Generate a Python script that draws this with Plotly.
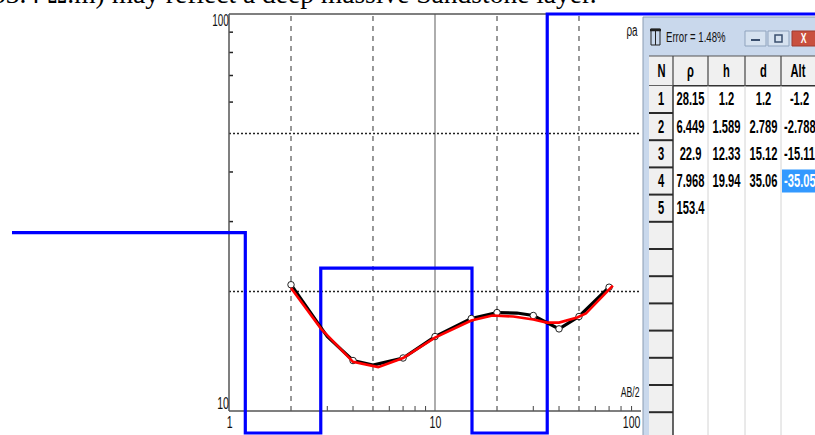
import plotly.graph_objects as go

W, H = 815, 435

# ---------------- data ----------------
# observed sounding (AB/2 in m, apparent resistivity in ohm.m)
AB2_OBS = [2, 3, 4, 5, 7, 10, 15, 20, 25, 30, 40, 50, 70]
RHO_OBS = [20.8, 15.4, 13.4, 13.05, 13.6, 15.4, 17.1, 17.7, 17.65, 17.4, 16.1, 17.3, 20.5]
OBS_CIRCLED = [True, False, True, False, True, True, True, True, False, True, True, True, True]

# calculated (model) curve
AB2_MOD = [2, 2.8, 4, 5.3, 7, 10, 15, 19, 24, 30, 35, 40, 49, 54, 73]
RHO_MOD = [20.4, 16.1, 13.3, 12.9, 13.6, 15.3, 16.9, 17.4, 17.3, 17.0, 16.7, 16.7, 17.2, 17.6, 20.7]

# layer model (table)
LAYER_N = [1, 2, 3, 4, 5]
LAYER_RHO = [28.15, 6.449, 22.9, 7.968, 153.4]
LAYER_H = [1.2, 1.589, 12.33, 19.94]
LAYER_D = [1.2, 2.789, 15.12, 35.06]
LAYER_ALT = ["-1.2", "-2.7887", "-15.117", "-35.056"]
ERROR_TXT = "Error = 1.48%"
DOC_TEXT = "(153.4 Ω.m) may reflect a deep massive Sandstone layer."

X_TICK_LABELS = ["1", "10", "100"]
Y_TICK_LABELS = ["10", "100"]
X_DASH_GRID = [2, 5, 20, 50]
X_SOLID_GRID = [10]
Y_DOT_GRID = [20, 50]
X_MINOR = [3, 4, 6, 7, 8, 9, 30, 40, 60, 70, 80, 90]
Y_MINOR = [30, 40, 60, 70, 80, 90]

# ---------------- geometry of the screenshot ----------------
X_PX_ONE, X_DEC = 229.0, 206.0      # pixel of AB/2 = 1, pixels per decade
Y_PX_TEN, Y_DEC = 411.0, 397.0      # pixel of rho = 10, pixels per decade
X_RANGE = [(0 - X_PX_ONE) / X_DEC, (W - X_PX_ONE) / X_DEC]
Y_RANGE = [1 - (H - Y_PX_TEN) / Y_DEC, 1 + Y_PX_TEN / Y_DEC]
MODEL_X_START = 10 ** ((12 - X_PX_ONE) / X_DEC)
MODEL_X_END = 10 ** X_RANGE[1] * 2
CLIP_HI = 100.0
CLIP_LO = 10 ** (1 - (433 - Y_PX_TEN) / Y_DEC)

SANS = "Liberation Sans, Arial, sans-serif"
SERIF = "Liberation Serif, Times New Roman, serif"


def px(xp):
    return xp / W


def py(yp):
    return 1 - yp / H


fig = go.Figure()


def seg_trace(xs, ys, color, width, dash="solid"):
    fig.add_trace(go.Scatter(x=xs, y=ys, mode="lines", hoverinfo="skip",
                             line=dict(color=color, width=width, dash=dash),
                             showlegend=False))


# grid
gx, gy = [], []
for v in X_DASH_GRID:
    gx += [v, v, None]
    gy += [10, 100, None]
seg_trace(gx, gy, "#333333", 1, "5px,5px")
gx, gy = [], []
for v in X_SOLID_GRID:
    gx += [v, v, None]
    gy += [10, 100, None]
seg_trace(gx, gy, "#777777", 1.2)
gx, gy = [], []
for v in Y_DOT_GRID:
    gx += [1, 100, None]
    gy += [v, v, None]
seg_trace(gx, gy, "#222222", 1.5, "2px,2px")

# minor ticks
tx, ty = [], []
tick_up = 10 ** (1 + 5 / Y_DEC)
for v in X_MINOR:
    tx += [v, v, None]
    ty += [10, tick_up, None]
seg_trace(tx, ty, "#444444", 1)
tx, ty = [], []
tick_right = 10 ** (4 / X_DEC)
for v in Y_MINOR:
    tx += [1, tick_right, None]
    ty += [v, v, None]
seg_trace(tx, ty, "#222222", 1.5)

# frame
seg_trace([1, 1, None, 1, 100, None, 1, 100], [10, 100, None, 10, 10, None, 100, 100],
          "#555555", 1.5)

# layer model (blue step), clipped to the drawing window like the original
step_x = [MODEL_X_START] + LAYER_D + [MODEL_X_END]
step_y = [min(max(r, CLIP_LO), CLIP_HI) for r in LAYER_RHO] + \
         [min(max(LAYER_RHO[-1], CLIP_LO), CLIP_HI)]
fig.add_trace(go.Scatter(x=step_x, y=step_y, mode="lines", line_shape="hv",
                         line=dict(color="#0000FF", width=3.2), hoverinfo="skip",
                         showlegend=False, cliponaxis=False))

# observed curve
fig.add_trace(go.Scatter(x=AB2_OBS, y=RHO_OBS, mode="lines",
                         line=dict(color="#000000", width=3.2), showlegend=False))
# observed points (circles)
fig.add_trace(go.Scatter(x=[a for a, c in zip(AB2_OBS, OBS_CIRCLED) if c],
                         y=[r for r, c in zip(RHO_OBS, OBS_CIRCLED) if c],
                         mode="markers",
                         marker=dict(symbol="circle", size=6.5, color="white",
                                     line=dict(color="#222222", width=1)),
                         showlegend=False))
# model curve
fig.add_trace(go.Scatter(x=AB2_MOD, y=RHO_MOD, mode="lines",
                         line=dict(color="#FF0000", width=2.6), showlegend=False))

shapes = []
ann = []


def rect(x0, y0, x1, y1, fill, line_color=None, lw=0):
    shapes.append(dict(type="rect", xref="paper", yref="paper",
                       x0=px(x0), x1=px(x1), y0=py(y1), y1=py(y0),
                       fillcolor=fill, layer="above",
                       line=dict(color=line_color or fill, width=lw)))


def hline(x0, x1, y, color, lw=1):
    shapes.append(dict(type="line", xref="paper", yref="paper",
                       x0=px(x0), x1=px(x1), y0=py(y), y1=py(y),
                       layer="above", line=dict(color=color, width=lw)))


def vline(x, y0, y1, color, lw=1):
    shapes.append(dict(type="line", xref="paper", yref="paper",
                       x0=px(x), x1=px(x), y0=py(y0), y1=py(y1),
                       layer="above", line=dict(color=color, width=lw)))


def text(x, y, s, size=14, color="#111111", xanchor="center", family=SANS,
         weight="normal"):
    ann.append(dict(xref="paper", yref="paper", x=px(x), y=py(y), text=s,
                    showarrow=False, xanchor=xanchor, yanchor="middle",
                    align=xanchor if xanchor in ("left", "right") else "center",
                    borderpad=0,
                    font=dict(family=family, size=size, color=color, weight=weight)))


# axis labels
text(229, 422, X_TICK_LABELS[0], 17)
text(435, 422, X_TICK_LABELS[1], 17)
text(641, 422, X_TICK_LABELS[2], 17, xanchor="right")
text(230, 403, Y_TICK_LABELS[0], 17, xanchor="right")
text(230, 21, Y_TICK_LABELS[1], 16, xanchor="right")
text(632, 31, "ρa", 16)
text(630, 392, "AB/2", 14)

# text line of the document, cut off by the screenshot
ann.append(dict(xref="paper", yref="paper", x=px(-33), y=py(-7), yanchor="middle",
                xanchor="left", showarrow=False, text=DOC_TEXT,
                font=dict(family=SERIF, size=27.5, color="#000000")))

# ---------------- table window ----------------
WX = 643
rect(WX, 17, W + 2, H + 2, "#FFFFFF")
rect(WX, 17, W + 2, 56, "#C9D8EC")
rect(WX, 17, 649, H + 2, "#C9D8EC")
vline(WX, 17, H, "#8A9BB2", 1)
hline(WX, W, 17, "#8A9BB2", 1)
# title icon
rect(651, 29, 660, 45, "rgba(0,0,0,0)", "#222222", 1)
hline(650, 661, 30, "#222222", 2.5)
vline(655.5, 30, 45, "#222222", 1)
text(665, 37, ERROR_TXT, 15.5, xanchor="left")
# buttons
rect(745, 31, 766, 46, "#D6E2F0", "#8FA3BD", 1)
hline(751, 760, 40, "#3A4F6E", 2)
rect(768, 31, 789, 46, "#D6E2F0", "#8FA3BD", 1)
rect(775, 35, 782, 42, "rgba(0,0,0,0)", "#3A4F6E", 1.5)
rect(792, 31, W + 2, 46, "#C9503E", "#9E3A2E", 1)
text(804, 38, "X", 14, color="#FFFFFF", xanchor="center", weight="bold")

# header row
COLS = [649, 673, 708, 745, 781, W + 20]
HDR_TOP, HDR_BOT = 56, 85.8
ROW_H = 27.2
rect(649, HDR_TOP, W + 2, HDR_BOT, "#F0F0F0")
hline(649, W, HDR_TOP, "#555555", 1)
hline(649, W, HDR_BOT, "#333333", 1.5)
for cx in COLS[1:-1]:
    vline(cx, HDR_TOP, HDR_BOT, "#444444", 1.2)
HEADERS = ["N", "ρ", "h", "d", "Alt"]
HDR_CX = [661, 690.5, 726.5, 763, 798]
for hd, cx in zip(HEADERS, HDR_CX):
    text(cx, 71, hd, 18, color="#000000", weight="bold")

# N column (button-like cells)
rect(649, HDR_BOT, 673, H + 2, "#F0F0F0")
vline(673, HDR_BOT, H, "#333333", 1.5)
y = HDR_BOT + ROW_H
while y < H:
    hline(649, 673, y, "#2A2A2A", 2)
    y += ROW_H
# light column separators
for cx in COLS[2:-1]:
    vline(cx, HDR_BOT, H, "#D4D4D4", 1)

# selected cell
sel_row = 3
rect(782, HDR_BOT + ROW_H * sel_row + 2, W + 2, HDR_BOT + ROW_H * (sel_row + 1) - 2,
     "#3399FF")

CELL = dict(size=18, weight="bold")
for r in range(len(LAYER_N)):
    cy = HDR_BOT + ROW_H * (r + 0.5)
    text(661, cy, str(LAYER_N[r]), color="#000000", **CELL)
    text(690.5, cy, str(LAYER_RHO[r]), color="#000000", **CELL)
    if r < len(LAYER_H):
        text(726.5, cy, str(LAYER_H[r]), color="#000000", **CELL)
        text(763, cy, str(LAYER_D[r]), color="#000000", **CELL)
        s = LAYER_ALT[r]
        col = "#FFFFFF" if r == sel_row else "#000000"
        if len(s) > 5:
            text(782.5, cy, s, color=col, xanchor="left", **CELL)
        else:
            text(799, cy, s, color=col, **CELL)

fig.update_layout(
    width=W, height=H,
    margin=dict(l=0, r=0, t=0, b=0),
    paper_bgcolor="white", plot_bgcolor="white",
    xaxis=dict(type="log", range=X_RANGE, visible=False, fixedrange=True),
    yaxis=dict(type="log", range=Y_RANGE, visible=False, fixedrange=True),
    shapes=shapes, annotations=ann, showlegend=False,
)

# The screenshot is horizontally squeezed: condense the sans-serif texts the same way
POST = """
document.body.style.margin = '0px';
document.body.style.padding = '0px';
var texts = document.querySelectorAll('text.annotation-text');
texts.forEach(function (t) {
  var fam = (t.style.fontFamily || '') + (t.getAttribute('style') || '');
  if (fam.indexOf('Serif') >= 0) { return; }
  var L = t.getComputedTextLength();
  if (L > 0) {
    t.setAttribute('textLength', (L * 0.62).toFixed(2));
    t.setAttribute('lengthAdjust', 'spacingAndGlyphs');
  }
});
"""
fig.write_html("out.html", config={"displayModeBar": False}, post_script=POST)
